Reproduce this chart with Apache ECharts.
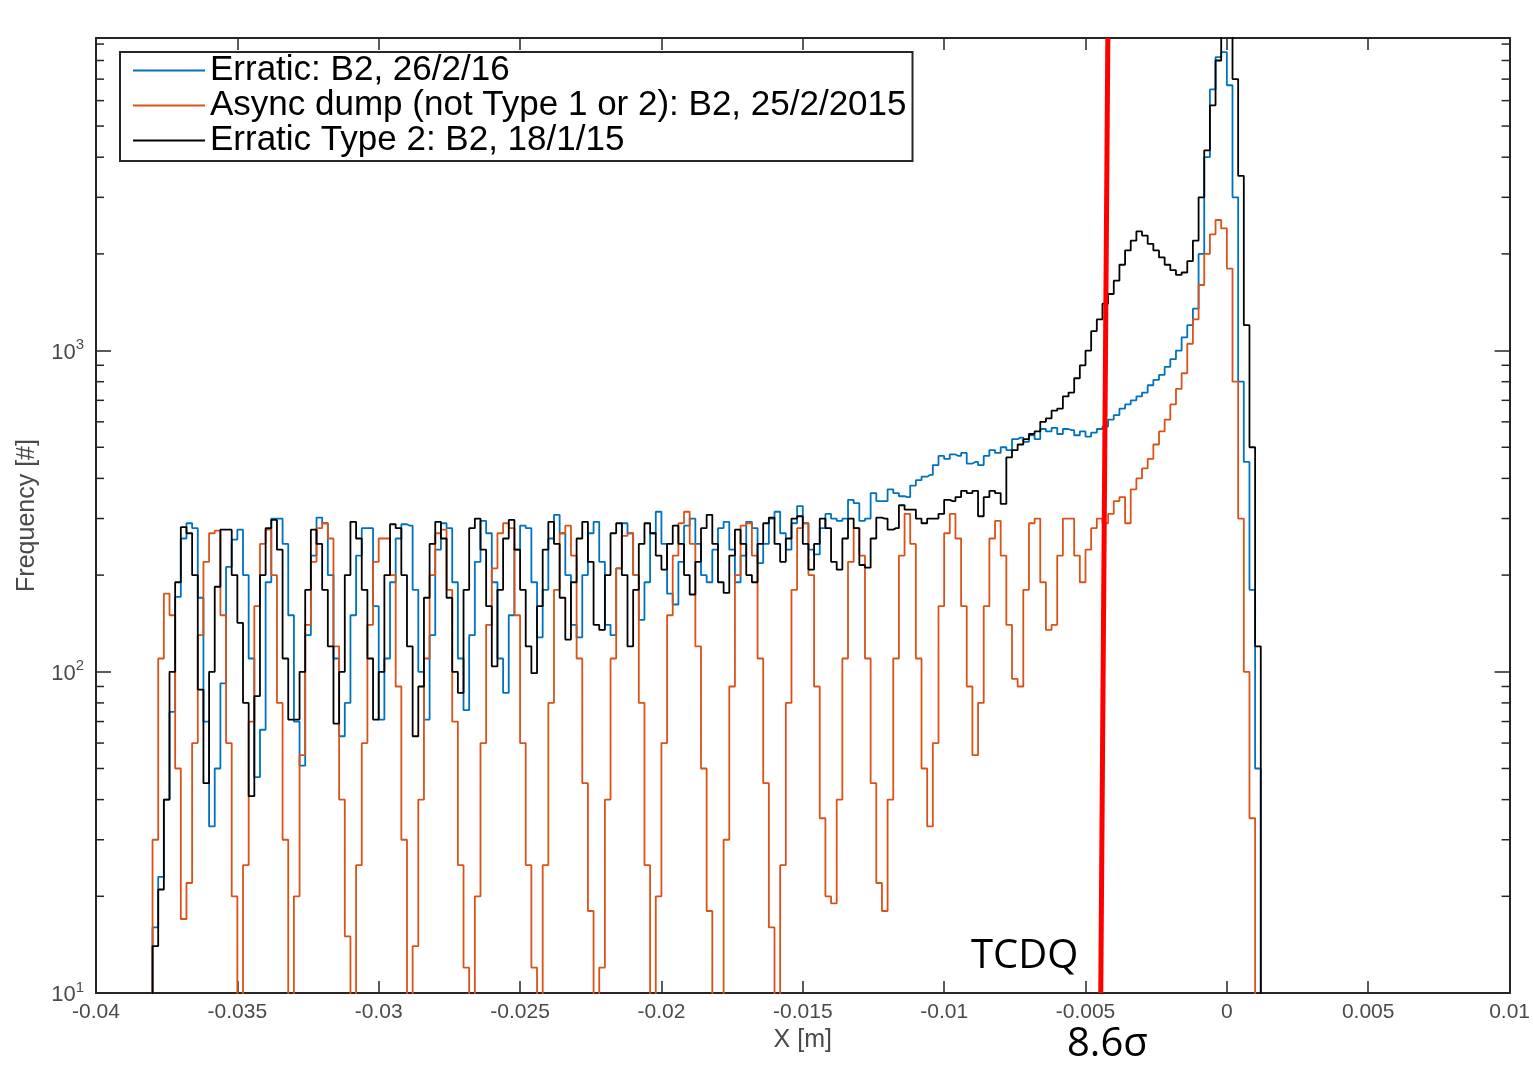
<!DOCTYPE html>
<html>
<head>
<meta charset="utf-8">
<title>Frequency vs X</title>
<script src="https://cdn.jsdelivr.net/npm/echarts@6/dist/echarts.min.js"></script>
<style>
  html, body { margin: 0; padding: 0; background: #fff; }
  #chart { width: 1533px; height: 1067px; }
</style>
</head>
<body>
<div id="chart"></div>
<script>
// histogram bins: centre of the first bin and the bin width [m]
const binStart = -0.0381;
const binWidth = 0.0002;

// counts per bin (1 = empty bin, drawn below the log axis)
const erraticB2 = [
    1, 16, 23, 40, 75, 171, 260, 290, 280, 170,
    70, 33, 50, 92, 212, 258, 277, 200, 110, 47,
    66, 190, 300, 300, 250, 150, 70, 51, 130, 230,
    302, 290, 200, 110, 63, 80, 150, 230, 280, 280,
    160, 71, 110, 190, 260, 288, 285, 180, 100, 71,
    130, 240, 290, 280, 190, 110, 76, 130, 220, 295,
    270, 190, 110, 86, 150, 240, 285, 280, 190, 128,
    180, 260, 308, 270, 200, 140, 128, 200, 270, 293,
    220, 140, 130, 210, 290, 270, 200, 145, 190, 270,
    315, 250, 175, 162, 220, 285, 300, 250, 200, 190,
    240, 280, 293, 240, 190, 230, 293, 280, 218, 250,
    300, 315, 270, 240, 290, 328, 290, 240, 232, 280,
    310, 300, 295, 300, 343, 335, 295, 300, 360, 340,
    340, 370, 360, 352, 350, 380, 395, 405, 410, 440,
    470, 460, 475, 470, 480, 445, 450, 440, 470, 490,
    480, 500, 490, 530, 536, 520, 545, 530, 570, 560,
    575, 550, 570, 565, 545, 560, 540, 555, 570, 580,
    610, 630, 660, 680, 700, 720, 740, 780, 810, 840,
    890, 940, 1000, 1100, 1200, 1350, 2000, 4000, 6500, 8200,
    8500, 6700, 3000, 800, 450, 180, 50, 1
];
const asyncDump = [
    1, 30, 110, 175, 150, 50, 17, 22, 60, 130,
    220, 270, 275, 150, 60, 20, 1, 25, 70, 160,
    250, 277, 200, 80, 30, 1, 20, 55, 140, 220,
    280, 290, 260, 120, 40, 15, 1, 25, 60, 140,
    220, 260, 260, 200, 90, 30, 1, 14, 40, 110,
    200, 270, 277, 180, 70, 25, 12, 1, 20, 60,
    140, 210, 270, 290, 280, 150, 60, 25, 12, 1,
    25, 80, 180, 270, 285, 230, 110, 45, 18, 1,
    12, 40, 110, 210, 265, 270, 200, 80, 25, 1,
    20, 60, 150, 230, 290, 315, 250, 120, 50, 18,
    1, 1, 30, 90, 200, 285, 290, 230, 110, 45,
    16, 1, 25, 80, 180, 280, 290, 200, 90, 35,
    20, 19, 40, 110, 220, 280, 230, 110, 45, 22,
    18, 40, 110, 230, 310, 250, 110, 50, 33, 60,
    160, 270, 310, 260, 160, 90, 55, 80, 160, 260,
    295, 230, 140, 95, 90, 180, 290, 300, 190, 135,
    140, 230, 300, 300, 230, 190, 240, 280, 300, 290,
    310, 340, 350, 290, 370, 400, 430, 460, 510, 560,
    610, 680, 760, 850, 1050, 1250, 1600, 2000, 2300, 2550,
    2400, 1800, 800, 300, 100, 35, 1, 1
];
const erraticType2 = [
    1, 14, 21, 40, 100, 190, 282, 270, 200, 88,
    45, 100, 184, 277, 277, 200, 142, 80, 41, 84,
    200, 280, 297, 240, 110, 71, 71, 100, 180, 277,
    250, 180, 120, 69, 100, 200, 293, 260, 180, 110,
    71, 100, 200, 288, 280, 200, 120, 63, 90, 170,
    250, 293, 260, 170, 100, 86, 180, 280, 300, 240,
    160, 104, 180, 260, 297, 240, 180, 120, 99, 160,
    240, 293, 250, 170, 126, 190, 260, 293, 220, 140,
    135, 200, 270, 290, 200, 120, 180, 250, 290, 270,
    230, 208, 250, 285, 250, 200, 174, 220, 280, 308,
    250, 190, 176, 230, 277, 250, 200, 190, 250, 290,
    302, 250, 220, 260, 300, 305, 250, 208, 250, 300,
    280, 220, 208, 260, 300, 280, 215, 211, 260, 302,
    300, 277, 280, 330, 320, 320, 300, 290, 300, 300,
    310, 343, 340, 350, 366, 360, 366, 305, 350, 366,
    360, 333, 465, 490, 510, 530, 550, 560, 600, 615,
    650, 660, 720, 740, 820, 900, 1000, 1150, 1250, 1400,
    1500, 1650, 1850, 2050, 2200, 2350, 2280, 2150, 2050, 1950,
    1850, 1780, 1720, 1750, 1900, 2200, 3000, 4200, 5800, 8000,
    10500, 10000, 7000, 3500, 1200, 500, 120, 1
];

const seriesNames = [
    "Erratic: B2, 26/2/16",
    "Async dump (not Type 1 or 2): B2, 25/2/2015",
    "Erratic Type 2: B2, 18/1/15"
];
const seriesColors = ["#0072BD", "#D95319", "#000000"];

// TCDQ position marker (drawn slightly tilted, as in the original)
const tcdqLine = [[-0.00446, 10], [-0.00421, 9400]];

// log-axis minor ticks
const minorTickValues = [20, 30, 40, 50, 60, 70, 80, 90,
    200, 300, 400, 500, 600, 700, 800, 900,
    2000, 3000, 4000, 5000, 6000, 7000, 8000, 9000];

const xMin = -0.04, xMax = 0.01, yMin = 10, yMax = 9400;
const axisColor = "#262626";
const labelColor = "#4a4a4a";
const font = "Liberation Sans";

function toBins(counts) {
    return counts.map((c, i) => [binStart + i * binWidth, c]);
}

let chart = echarts.init(document.getElementById("chart"));

let histSeries = [erraticB2, asyncDump, erraticType2].map((counts, k) => ({
    name: seriesNames[k],
    type: "line",
    step: "middle",
    showSymbol: false,
    data: toBins(counts),
    lineStyle: {color: seriesColors[k], width: 1.8},
    itemStyle: {color: seriesColors[k]},
    emphasis: {disabled: true},
    z: 2 + k
}));

let axisLine = {onZero: false, lineStyle: {color: axisColor, width: 2}};

let option = {
    backgroundColor: "#fff",
    animation: false,
    grid: {left: 96, right: 23, top: 38, bottom: 74},
    legend: {
        orient: "vertical",
        left: 120,
        top: 52,
        data: seriesNames,
        icon: "rect",
        itemWidth: 72,
        itemHeight: 2,
        itemGap: 0,
        padding: [1, 6, 3, 13],
        borderColor: axisColor,
        borderWidth: 2,
        backgroundColor: "#fff",
        selectedMode: false,
        textStyle: {fontFamily: font, fontSize: 35, lineHeight: 34, color: "#000"}
    },
    xAxis: [{
        type: "value",
        min: xMin,
        max: xMax,
        interval: 0.005,
        name: "X [m]",
        nameLocation: "middle",
        nameGap: 33,
        nameTextStyle: {fontFamily: font, fontSize: 25, color: labelColor},
        axisLine: axisLine,
        axisTick: {inside: true, length: 12, lineStyle: {color: axisColor, width: 1.5}},
        axisLabel: {fontFamily: font, fontSize: 21, color: labelColor, margin: 9},
        splitLine: {show: false}
    }, {
        type: "value",
        min: xMin,
        max: xMax,
        interval: 0.005,
        position: "top",
        axisLine: axisLine,
        axisTick: {inside: true, length: 12, lineStyle: {color: axisColor, width: 1.5}},
        axisLabel: {show: false},
        splitLine: {show: false}
    }],
    yAxis: [{
        type: "log",
        logBase: 10,
        min: yMin,
        max: yMax,
        name: "Frequency [#]",
        nameLocation: "middle",
        nameGap: 56,
        nameTextStyle: {fontFamily: font, fontSize: 25, color: labelColor},
        axisLine: axisLine,
        axisTick: {inside: true, length: 15, lineStyle: {color: axisColor, width: 1.5}},
        axisLabel: {
            margin: 12,
            formatter: function (v) {
                let e = Math.log10(v);
                if (Math.abs(e - Math.round(e)) > 1e-6 || v > 5000) return "";
                return "{b|10}{sup|" + Math.round(e) + "}";
            },
            rich: {
                b: {fontFamily: font, fontSize: 22, lineHeight: 26, verticalAlign: "bottom", color: labelColor},
                sup: {fontFamily: font, fontSize: 15, lineHeight: 26, verticalAlign: "top", color: labelColor}
            }
        },
        splitLine: {show: false}
    }, {
        type: "log",
        logBase: 10,
        min: yMin,
        max: yMax,
        position: "right",
        axisLine: axisLine,
        axisTick: {inside: true, length: 15, lineStyle: {color: axisColor, width: 1.5}},
        axisLabel: {show: false},
        splitLine: {show: false}
    }],
    series: histSeries.concat([{
        name: "TCDQ",
        type: "line",
        data: tcdqLine,
        showSymbol: false,
        lineStyle: {color: "#ff0000", width: 5},
        emphasis: {disabled: true},
        z: 6
    }, {
        // minor ticks on both log axes
        type: "custom",
        silent: true,
        clip: false,
        data: minorTickValues.map(v => [xMin, v]),
        renderItem: function (params, api) {
            let v = api.value(1);
            let l = api.coord([xMin, v]);
            let r = api.coord([xMax, v]);
            let st = {stroke: axisColor, lineWidth: 1.5};
            return {
                type: "group",
                children: [
                    {type: "line", shape: {x1: l[0], y1: l[1], x2: l[0] + 8, y2: l[1]}, style: st},
                    {type: "line", shape: {x1: r[0], y1: r[1], x2: r[0] - 8, y2: r[1]}, style: st}
                ]
            };
        },
        z: 7
    }]),
    graphic: [{
        type: "text",
        left: 971,
        top: 937,
        style: {text: "TCDQ", font: '40px "Open Sans"', fill: "#000"}
    }, {
        type: "text",
        left: 1067,
        top: 1025,
        style: {text: "8.6\u03c3", font: '40px "Open Sans"', fill: "#000"}
    }]
};

chart.setOption(option);
</script>
</body>
</html>
